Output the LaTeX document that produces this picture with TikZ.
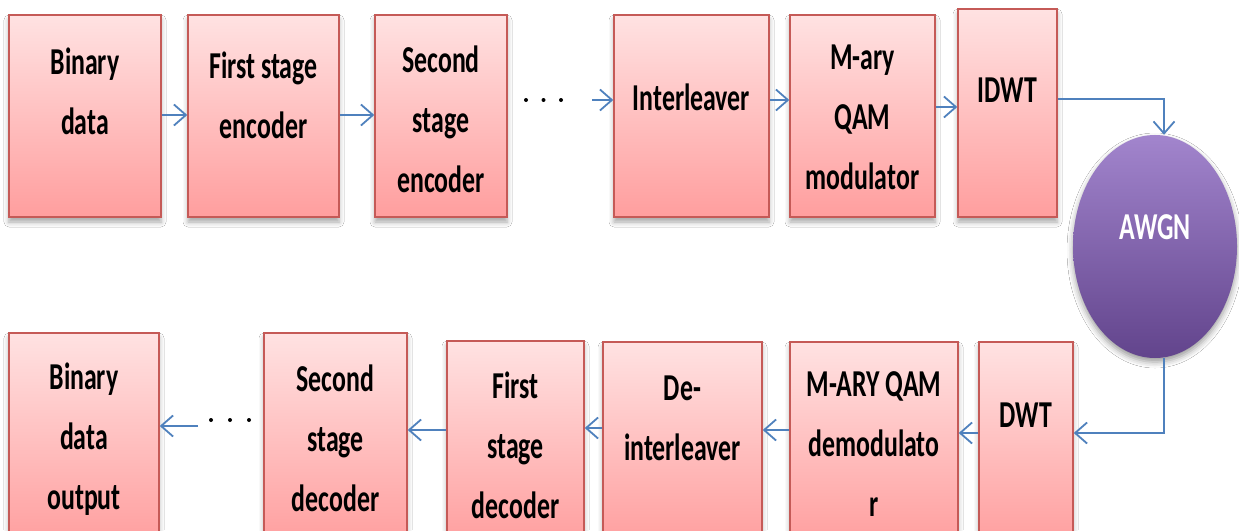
\documentclass[tikz,border=0pt]{standalone}
\usepackage{fontspec}
\setmainfont{Carlito}[FakeStretch=0.68]
\usetikzlibrary{arrows.meta,shapes.geometric,shadows.blur}
\definecolor{boxtop}{HTML}{FFE2E2}
\definecolor{boxbot}{HTML}{FF9E9E}
\definecolor{boxline}{HTML}{C55A57}
\definecolor{flowblue}{HTML}{4F81BD}
\definecolor{awgntop}{HTML}{A285CD}
\definecolor{awgnmid}{HTML}{7D5BA9}
\definecolor{awgnbot}{HTML}{62448C}

\begin{document}
\begin{tikzpicture}[x=1pt,y=-1pt,
  stage/.style={rectangle, draw=boxline, line width=1.4pt,
    top color=boxtop, bottom color=boxbot, inner sep=0pt,
    blur shadow={shadow xshift=0pt, shadow yshift=-5pt,
      shadow blur radius=5pt, shadow opacity=35}},
  lbl/.style={font=\fontsize{38}{60}\selectfont\bfseries, align=center, text=black},
  flow/.style={draw=flowblue, line width=1.8pt,
    -{Straight Barb[length=12pt,width=21pt]}},
  dotmark/.style={fill=black}
]
% page frame
\fill[white] (0,0) rectangle (1239,530);
\clip (0,0) rectangle (1239,530);

% transmitter chain
\node[stage, minimum width=152, minimum height=202,
  label={[lbl,yshift=25pt]center:{Binary\\data}}] (b1) at (85,116) {};
\node[stage, minimum width=151, minimum height=202,
  label={[lbl,yshift=21pt]center:{First stage\\encoder}}] (b2) at (263.5,116) {};
\node[stage, minimum width=132, minimum height=202,
  label={[lbl,yshift=-3pt]center:{Second\\stage\\encoder}}] (b3) at (441,116) {};
\node[stage, minimum width=155, minimum height=202,
  label={[lbl,yshift=19pt]center:{Interleaver}}] (b4) at (691.5,116) {};
\node[stage, minimum width=145, minimum height=202,
  label={[lbl,yshift=-1pt]center:{M-ary\\QAM\\modulator}}] (b5) at (862.5,116) {};
\node[stage, minimum width=99, minimum height=208,
  label={[lbl,yshift=23pt]center:{IDWT}}] (b6) at (1007.5,113) {};

% channel
\node[ellipse, minimum width=164, minimum height=223, inner sep=0pt,
  top color=awgntop, middle color=awgnmid, bottom color=awgnbot,
  blur shadow={shadow xshift=0pt, shadow yshift=-4pt,
    shadow blur radius=6pt, shadow opacity=40},
  label={[lbl,text=white,yshift=19.5pt]center:{AWGN}}] (awgn) at (1155,246.5) {};

% receiver chain
\node[stage, minimum width=150, minimum height=212,
  label={[lbl,yshift=0pt]center:{Binary\\data\\output}}] (c1) at (84,439) {};
\node[stage, minimum width=143, minimum height=212,
  label={[lbl,yshift=1pt]center:{Second\\stage\\decoder}}] (c2) at (335.5,439) {};
\node[stage, minimum width=137, minimum height=204,
  label={[lbl,yshift=-2pt]center:{First\\stage\\decoder}}] (c3) at (515.5,443) {};
\node[stage, minimum width=159, minimum height=203,
  label={[lbl,yshift=25pt]center:{De-\\interleaver}}] (c4) at (682.5,443.5) {};
\node[stage, minimum width=168, minimum height=203,
  label={[lbl,yshift=-0.5pt]center:{M-ARY QAM\\demodulato\\r}}] (c5) at (874,443.5) {};
\node[stage, minimum width=94, minimum height=203,
  label={[lbl,yshift=28.5pt]center:{DWT}}] (c6) at (1026,443.5) {};

% elided stages
\foreach \x in {526,543.5,561} \fill[dotmark] (\x,100) circle[radius=2];
\foreach \x in {211,230,249} \fill[dotmark] (\x,420) circle[radius=2];
\coordinate (txgap) at (592,100);
\coordinate (rxgap) at (198,426);

% signal flow
\draw[flow] (b1.east |- 0,115) -- (b2.west |- 0,115);
\draw[flow] (b2.east |- 0,115) -- (b3.west |- 0,115);
\draw[flow] (txgap) -- (b4.west |- txgap);
\draw[flow] (b4.east |- 0,100) -- (b5.west |- 0,100);
\draw[flow] (b5.east |- 0,107) -- (b6.west |- 0,107);
\draw[flow] (b6.east |- 0,99) -| ([xshift=9pt]awgn.north);
\draw[flow] ([xshift=9pt]awgn.south) |- (c6.east |- 0,433);
\draw[flow] (c6.west |- 0,433) -- (c5.east |- 0,433);
\draw[flow] (c5.west |- 0,430) -- (c4.east |- 0,430);
\draw[flow] (c4.west |- 0,428) -- (c3.east |- 0,428);
\draw[flow] (c3.west |- 0,430) -- (c2.east |- 0,430);
\draw[flow] (rxgap) -- (c1.east |- rxgap);
\end{tikzpicture}
\end{document}
